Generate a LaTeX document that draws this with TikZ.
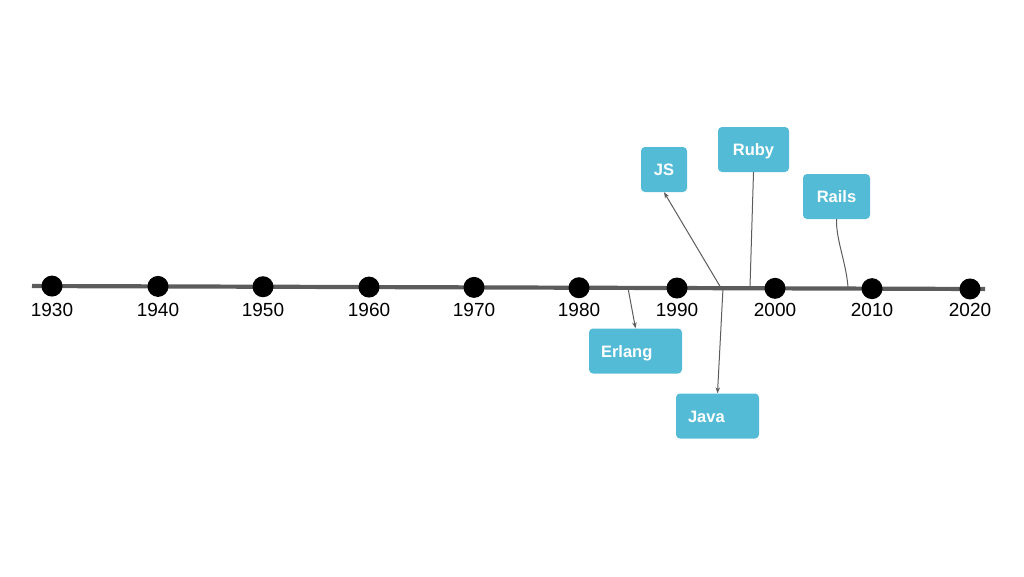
\documentclass[tikz,border=0pt]{standalone}
\usepackage{fontspec}
\setmainfont{Liberation Sans}
\usetikzlibrary{arrows.meta}
\definecolor{boxblue}{RGB}{84,187,214}
\definecolor{axisgray}{RGB}{92,92,92}
\tikzset{
  event/.style={fill=boxblue,rounded corners=4pt,text=white,font=\fontsize{16.5}{19}\selectfont\bfseries,inner sep=0pt,minimum height=45pt,text height=12pt,text depth=0pt},
  pointer/.style={draw=axisgray,line width=1pt},
  tip/.style={-{Stealth[length=6pt,width=4.5pt]}}
}
\begin{document}
\begin{tikzpicture}[x=1pt,y=-1pt]
  \useasboundingbox (0,0) rectangle (1024,576);
  \draw[axisgray,line width=4.2pt] (32,286) -- (985,289);
  \foreach \yr [count=\i] in {1930,1940,1950,1960,1970,1980,1990,2000,2010,2020} {
  \pgfmathsetmacro{\px}{{52,158,263,369,474,579,677,775,872,970}[\i-1]}
  \fill (\px,{286+(\px-32)*3/953}) circle [radius=10.5pt] coordinate (d\i);
  \node[font=\fontsize{19}{22}\selectfont] (y\i) at (\px,310) {\yr};
  }
  % the events
  \node[event,minimum width=46pt] (js) at (664,169.5) {JS};
  \node[event,minimum width=71pt] (ruby) at (753.5,149.5) {Ruby};
  \node[event,minimum width=67pt] (rails) at (836.5,196.5) {Rails};
  \node[event,text width=69pt,align=left,inner xsep=12pt] (erlang) at (635.5,351) {Erlang};
  \node[event,text width=59pt,align=left,inner xsep=12pt] (java) at (717.5,416) {Java};
  \coordinate (erl0) at (628,288);
  \coordinate (js0) at (721,288);
  \coordinate (java0) at (723,288);
  \coordinate (ruby0) at (750,287);
  \coordinate (rails0) at (848,287);
  \draw[pointer,tip] (erl0) -- (erlang.north);
  \draw[pointer,tip] (js0) -- (js.south);
  \draw[pointer,tip] (java0) -- (java.north);
  \draw[pointer] (ruby0) -- (ruby.south);
  \draw[pointer] (rails0) .. controls (846,262) and (836,240) .. (rails.south);
\end{tikzpicture}
\end{document}
